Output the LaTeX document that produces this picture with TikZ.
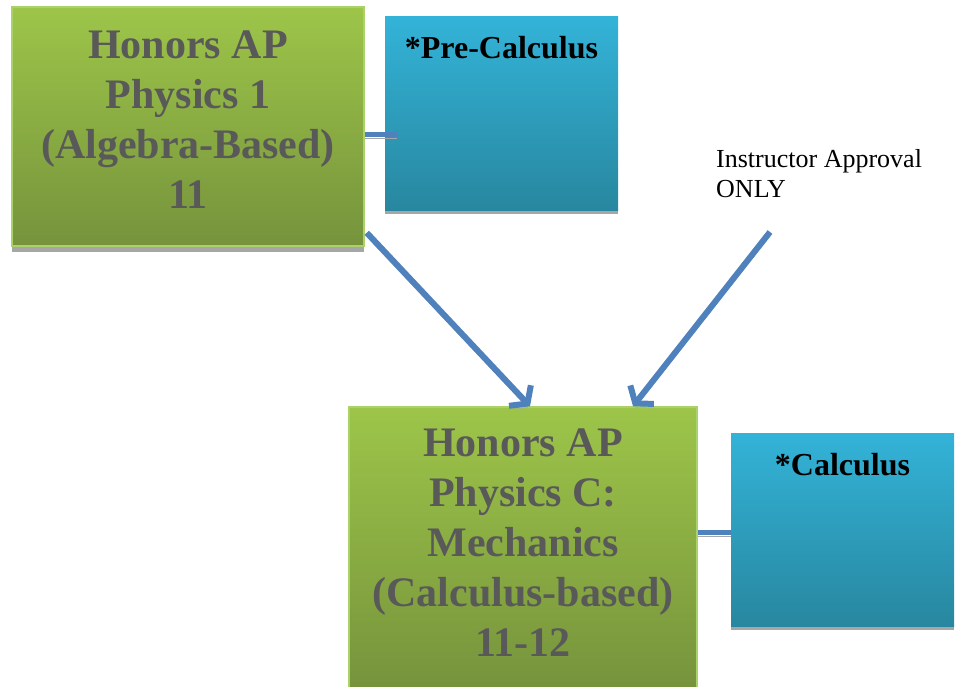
\documentclass[tikz,border=0pt]{standalone}
\usepackage{fontspec}
\setmainfont{Liberation Serif}
\usetikzlibrary{positioning,calc,arrows.meta}
\definecolor{greentop}{HTML}{9DC549}
\definecolor{greenbot}{HTML}{76933C}
\definecolor{greenedge}{HTML}{A9D26A}
\definecolor{bluetop}{HTML}{33B3D8}
\definecolor{bluebot}{HTML}{28879F}
\definecolor{linkblue}{HTML}{4F81BD}
\definecolor{shadegray}{HTML}{A6A6A6}
\definecolor{textgray}{HTML}{595959}

\begin{document}
\begin{tikzpicture}[x=1pt,y=-1pt,
>={Straight Barb[length=11pt,width=30pt]}]

\tikzstyle{greenbox}=[rectangle, top color=greentop, bottom color=greenbot,
draw=greenedge, line width=1.5pt, inner sep=0pt,
preaction={fill=shadegray, transform canvas={yshift=-6pt}}]
\tikzstyle{bluebox}=[rectangle, top color=bluetop, bottom color=bluebot,
draw=none, inner sep=0pt,
preaction={fill=shadegray, transform canvas={yshift=-4pt}}]
\tikzstyle{greentext}=[inner sep=0pt, align=center, text=textgray,
font=\fontsize{42}{50}\selectfont\bfseries]
\tikzstyle{bluetext}=[inner sep=0pt, align=center, text=black,
font=\fontsize{32}{38}\selectfont\bfseries]
\tikzstyle{link}=[draw=linkblue, line width=5pt,
preaction={draw=shadegray, transform canvas={yshift=-4pt}}]
\tikzstyle{flow}=[->, draw=linkblue, line width=6pt,
preaction={draw=shadegray, transform canvas={yshift=-4pt}}]

\useasboundingbox (0,0) rectangle (957,687);

%first course
\node[greenbox, minimum width=352, minimum height=239] (phys1) at (188,126.5) {};
\node[greentext, below=24pt of phys1.north] (phys1txt)
{Honors AP\\Physics 1\\(Algebra-Based)\\11};

\node[bluebox, minimum width=233, minimum height=193] (precalc) at (501.5,113.5) {};
\node[bluetext, below=19pt of precalc.north] (precalctxt) {*Pre-Calculus};

\draw[link] ($(phys1.east)+(0,8)$) -- ($(phys1.east -| precalc.west)+(12,8)$);

%second course
\node[greenbox, minimum width=348, minimum height=283] (phys2) at (523,548.5) {};
\node[greentext, below=22pt of phys2.north] (phys2txt)
{Honors AP\\Physics C:\\Mechanics\\(Calculus-based)\\11-12};

\node[bluebox, minimum width=223, minimum height=193] (calculus) at (842.5,529.5) {};
\node[bluetext, below=20pt of calculus.north] (calculustxt) {*Calculus};

\draw[link] ($(phys2.east)+(0,-16)$) -- ($(phys2.east -| calculus.west)+(0,-16)$);

%approval note
\node[inner sep=0pt, align=left, anchor=north west,
font=\fontsize{26}{30}\selectfont] (approval) at (716,149)
{Instructor Approval\\ONLY};
\coordinate (approvalfoot) at (770,232);

\draw[flow] ($(phys1.south east)+(2,-14)$) -- ($(phys2.north)+(7,0)$);
\draw[flow] (approvalfoot) -- ($(phys2.north)+(110,0)$);

\end{tikzpicture}
\end{document}
